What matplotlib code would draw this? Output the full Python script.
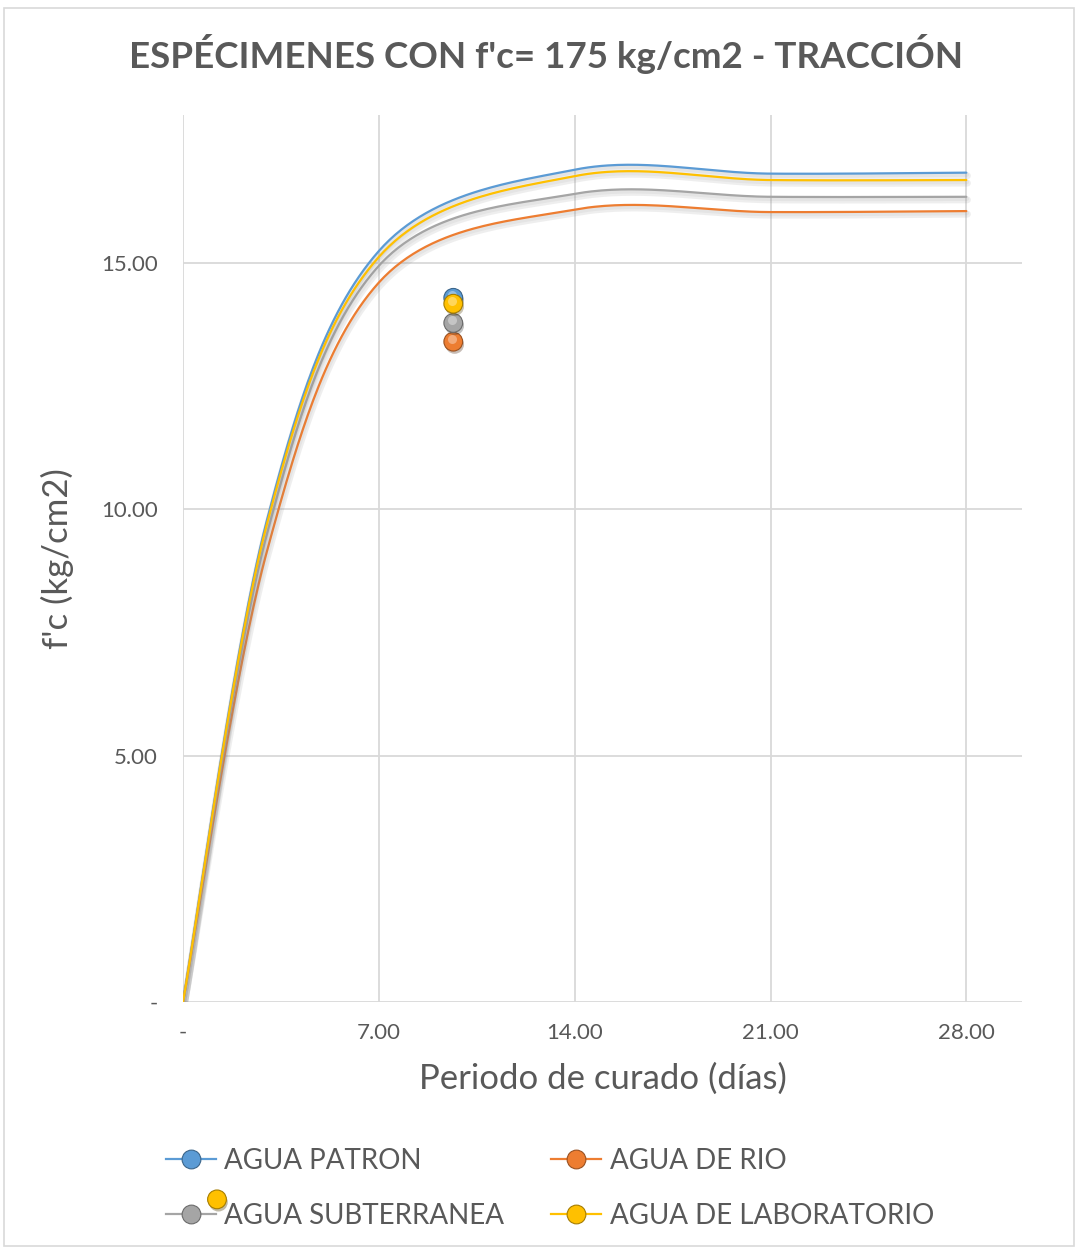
import numpy as np
import matplotlib
matplotlib.use("Agg")
import matplotlib.pyplot as plt
import matplotlib.patheffects as pe
from matplotlib.lines import Line2D
from matplotlib.patches import Rectangle
from matplotlib.transforms import offset_copy

plt.rcParams['font.family'] = ['Lato', 'DejaVu Sans']

# datos
dias = [0, 3, 7, 14, 21, 28]
patron = [0, 9.78, 15.24, 16.89, 16.81, 16.83]
rio = [0, 9.15, 14.60, 16.08, 16.03, 16.05]
subterranea = [0, 9.50, 14.94, 16.40, 16.34, 16.34]
laboratorio = [0, 9.70, 15.12, 16.76, 16.68, 16.68]

series = [("AGUA PATRON", patron, "#5B9BD5"),
          ("AGUA DE RIO", rio, "#ED7D31"),
          ("AGUA SUBTERRANEA", subterranea, "#A5A5A5"),
          ("AGUA DE LABORATORIO", laboratorio, "#FFC000")]

# marcadores sueltos (artefacto del grafico original)
x_suelto = 9.66
y_suelto = [14.29, 13.40, 13.78, 14.17]

xticks = [0, 7, 14, 21, 28]
xlabels = ["-", "7.00", "14.00", "21.00", "28.00"]
yticks = [0, 5, 10, 15]
ylabels = ["-", "5.00", "10.00", "15.00"]


def excel_smooth(x, y, n=60):
    # curva tipo "linea suavizada" de Excel (bezier, tension 1/6)
    p = np.column_stack([x, y]).astype(float)
    p = np.vstack([p[0], p, p[-1]])
    xs, ys = [], []
    t = np.linspace(0, 1, n)
    for i in range(1, len(p) - 2):
        p0, p1, p2, p3 = p[i - 1], p[i], p[i + 1], p[i + 2]
        c1 = p1 + (p2 - p0) / 6
        c2 = p2 - (p3 - p1) / 6
        b = ((1 - t) ** 3)[:, None] * p1 + (3 * (1 - t) ** 2 * t)[:, None] * c1 \
            + (3 * (1 - t) * t ** 2)[:, None] * c2 + (t ** 3)[:, None] * p2
        xs.extend(b[:, 0])
        ys.extend(b[:, 1])
    return np.array(xs), np.array(ys)


def darker(c, f=0.65):
    r, g, b = matplotlib.colors.to_rgb(c)
    return (r * f, g * f, b * f)


def lighter(c, f=0.55):
    r, g, b = matplotlib.colors.to_rgb(c)
    return (r + (1 - r) * f, g + (1 - g) * f, b + (1 - b) * f)


fig = plt.figure(figsize=(10.78, 12.5), dpi=100)
fig.patches.append(Rectangle((0.004, 0.003), 0.992, 0.991, transform=fig.transFigure,
                             fill=False, edgecolor="#D9D9D9", linewidth=1.2))
ax = fig.add_axes([0.1698, 0.1984, 0.7785, 0.7096])

sombra = [pe.SimpleLineShadow(offset=(0.8, -2.2), shadow_color="#8c8c8c", alpha=0.14, linewidth=5),
          pe.SimpleLineShadow(offset=(0.5, -1.5), shadow_color="#8c8c8c", alpha=0.10, linewidth=3),
          pe.Normal()]

for nombre, vals, col in series:
    sx, sy = excel_smooth(dias, vals)
    ax.plot(sx, sy, color=col, lw=1.6, path_effects=sombra, zorder=3, solid_capstyle="round")

# puntos sueltos, en orden: azul, naranja, gris, amarillo
for (nombre, vals, col), yy in zip(series, y_suelto):
    ax.plot([x_suelto], [yy], marker="o", ms=13.5, color=col, mec=darker(col), mew=0.8,
            zorder=5, path_effects=[pe.SimplePatchShadow(offset=(1, -2), alpha=0.3), pe.Normal()])
    tr = offset_copy(ax.transData, fig=fig, x=-1.0, y=2.2, units="points")
    ax.plot([x_suelto], [yy], marker="o", ms=6.5, color=lighter(col), mec="none", alpha=0.65,
            zorder=5, transform=tr)

ax.set_xlim(0, 30)
ax.set_ylim(0, 18)
ax.set_xticks(xticks)
ax.set_xticklabels(xlabels)
ax.set_yticks(yticks)
ax.set_yticklabels(ylabels)
ax.tick_params(length=0, labelsize=16, colors="#595959", pad=18)
ax.tick_params(axis="x", pad=15)
ax.grid(True, color="#D9D9D9", lw=1.3)
ax.set_axisbelow(True)
for s in ax.spines.values():
    s.set_visible(False)

ax.set_xlabel("Periodo de curado (días)", fontsize=25, color="#595959", labelpad=14)
ax.set_ylabel("f'c (kg/cm2)", fontsize=25, color="#595959", labelpad=20)
fig.text(0.507, 0.957, "ESPÉCIMENES CON f'c= 175 kg/cm2 - TRACCIÓN", ha="center", va="center",
         fontsize=26.5, fontweight="bold", color="#595959")

handles = []
for nombre, vals, col in series:
    handles.append(Line2D([], [], color=col, lw=1.6, marker="o", ms=13.5, mfc=col,
                          mec=darker(col), mew=0.8, label=nombre))
orden = [0, 2, 1, 3]
leg = fig.legend([handles[i] for i in orden], [series[i][0] for i in orden],
                 loc="center", bbox_to_anchor=(0.510, 0.0492), ncol=2, frameon=False,
                 fontsize=20, handlelength=1.8, handletextpad=0.3, columnspacing=1.7,
                 labelspacing=1.05, labelcolor="#595959")

# marcador amarillo suelto junto a la leyenda
fig.add_artist(Line2D([0.2013], [0.0405], transform=fig.transFigure, marker="o", ms=13.5,
                      color="#FFC000", mec=darker("#FFC000"), mew=0.8,
                      path_effects=[pe.SimplePatchShadow(offset=(1, -2), alpha=0.35), pe.Normal()]))

fig.savefig("out.png", dpi=100)
